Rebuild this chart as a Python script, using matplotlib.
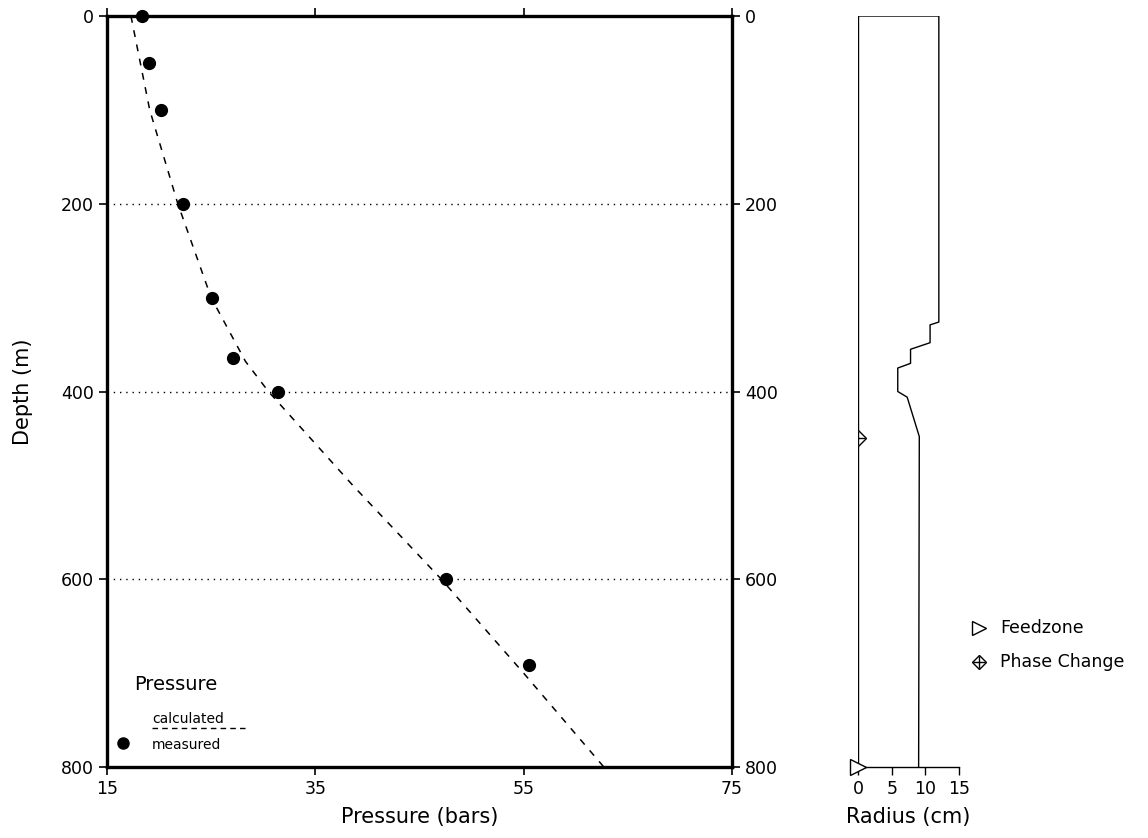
import numpy as np
import matplotlib.pyplot as plt
from matplotlib.lines import Line2D

# Tekanan terukur (depth m, pressure bar)
meas_depth = [0, 50, 100, 200, 300, 364, 400, 600, 691]
meas_pres = [18.4, 19.0, 20.2, 22.3, 25.1, 27.1, 31.4, 47.5, 55.5]

# Tekanan hasil hitungan model
calc_depth = [0, 100, 200, 300, 368, 400, 500, 600, 700, 800]
calc_pres = [17.3, 19.1, 21.8, 25.0, 28.3, 30.5, 38.6, 47.1, 55.0, 62.7]

# Profil jari-jari sumur
rad_depth = [0, 0, 326, 329, 348, 355, 370, 375, 400, 406, 448, 800]
rad_cm = [0, 12.0, 12.0, 10.7, 10.7, 7.8, 7.8, 5.9, 5.9, 7.3, 9.1, 9.0]

feed_depth = 800
phase_depth = 450

depth_ticks = [0, 200, 400, 600, 800]
pres_ticks = [15, 35, 55, 75]
rad_ticks = [0, 5, 10, 15]

plt.rcParams['font.family'] = ['DejaVu Sans']

fig = plt.figure(figsize=(11.48, 8.38), dpi=100)
ax = fig.add_axes([0.0932, 0.0847, 0.5444, 0.8962])
ax2 = fig.add_axes([0.7474, 0.0847, 0.0880, 0.8962])

# Panel tekanan
ax.plot(calc_pres, calc_depth, color='black', lw=1.1, dashes=(4.5, 5))
ax.plot(meas_pres, meas_depth, 'o', color='black', ms=8.5, clip_on=False)
ax.set_xlim(15, 75)
ax.set_ylim(800, 0)
ax.set_xticks(pres_ticks)
ax.set_yticks(depth_ticks)
ax.tick_params(direction='out', length=6, width=1.2, labelsize=12.5,
               top=True, right=True, labelright=True)
for s in ax.spines.values():
    s.set_linewidth(2.4)
for d in [200, 400, 600]:
    ax.axhline(d, color='black', lw=1.0, ls=(0, (1, 3.5)))
ax.set_xlabel('Pressure (bars)', fontsize=15, labelpad=6)
ax.set_ylabel('Depth (m)', fontsize=15, labelpad=20)

# legenda di dalam panel
ax.text(0.043, 0.103, 'Pressure', transform=ax.transAxes, fontsize=14)
ax.text(0.072, 0.058, 'calculated', transform=ax.transAxes, fontsize=10)
ax.add_line(Line2D([0.072, 0.222], [0.052, 0.052], transform=ax.transAxes,
                   color='black', lw=1.0, dashes=(4, 3)))
ax.text(0.072, 0.024, 'measured', transform=ax.transAxes, fontsize=10)
ax.plot([0.026], [0.032], 'o', color='black', ms=8, transform=ax.transAxes)

# Panel jari-jari
ax2.plot([0, 0], [0, 800], color='black', lw=1.0)
ax2.plot(rad_cm, rad_depth, color='black', lw=1.0)
ax2.plot([0], [phase_depth], 'D', mfc='white', mec='black', ms=8.5, mew=1.0)
ax2.plot([0], [phase_depth], '+', color='black', ms=10, mew=1.0)
ax2.plot([0], [feed_depth], '>', mfc='white', mec='black', ms=11, mew=1.0,
         clip_on=False, zorder=5)
ax2.set_xlim(0, 15)
ax2.set_ylim(800, 0)
ax2.set_xticks(rad_ticks)
ax2.set_yticks([])
for k in ['top', 'left', 'right']:
    ax2.spines[k].set_visible(False)
ax2.spines['bottom'].set_linewidth(1.0)
ax2.tick_params(direction='out', length=6, width=1.0, labelsize=12.5)
ax2.set_xlabel('Radius (cm)', fontsize=15, labelpad=6)

# legenda penanda
fig.add_artist(Line2D([0.853], [0.251], marker='>', mfc='white', mec='black',
                      ms=10, mew=1.0, transform=fig.transFigure))
fig.text(0.871, 0.251, 'Feedzone', fontsize=12.5, va='center')
fig.add_artist(Line2D([0.853], [0.210], marker='D', mfc='white', mec='black',
                      ms=7, mew=1.0, transform=fig.transFigure))
fig.add_artist(Line2D([0.853], [0.210], marker='+', color='black',
                      ms=9, mew=1.0, transform=fig.transFigure))
fig.text(0.871, 0.210, 'Phase Change', fontsize=12.5, va='center')

fig.savefig('out.png', dpi=100)
